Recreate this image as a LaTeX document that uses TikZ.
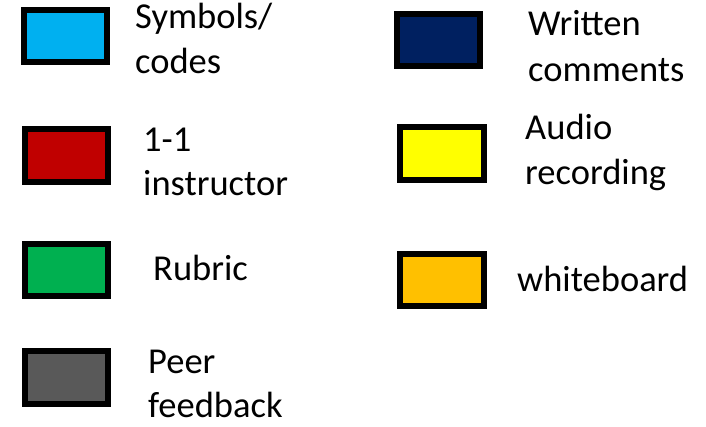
\documentclass[tikz,border=0pt]{standalone}
\usepackage{fontspec}
\setmainfont{Carlito}
\definecolor{cblue}{HTML}{00B0F0}
\definecolor{cred}{HTML}{C00000}
\definecolor{cgreen}{HTML}{00B050}
\definecolor{cgray}{HTML}{595959}
\definecolor{cnavy}{HTML}{002060}
\definecolor{cyellow}{HTML}{FFFF00}
\definecolor{corange}{HTML}{FFC000}
\begin{document}
\begin{tikzpicture}[x=1pt,y=-1pt,
  swatch/.style={draw=black,line width=6pt,minimum width=83.5pt,minimum height=52.5pt,inner sep=0pt,fill=#1},
  lbl/.style={anchor=base west,inner sep=0pt,font=\fontsize{36.5}{44}\selectfont,text=black}]
\useasboundingbox (0,0) rectangle (706,427);
\node[swatch=cblue]   (b1) at (65.5,36) {};
\node[swatch=cred]    (b2) at (66.5,155.5) {};
\node[swatch=cgreen]  (b3) at (66.5,270) {};
\node[swatch=cgray]   (b4) at (66.5,377.5) {};
\node[swatch=cnavy]   (b5) at (438.5,40) {};
\node[swatch=cyellow] (b6) at (442,153.5) {};
\node[swatch=corange] (b7) at (442,280) {};
\node[lbl] (t1a) at (135,29) {Symbols/};
\node[lbl] (t1b) at (135,74) {codes};
\node[lbl] (t2a) at (143,152) {1-1};
\node[lbl] (t2b) at (143,196) {instructor};
\node[lbl] (t3)  at (153,280) {Rubric};
\node[lbl] (t4a) at (148,373) {Peer};
\node[lbl] (t4b) at (148,417) {feedback};
\node[lbl] (t5a) at (528,36) {Written};
\node[lbl] (t5b) at (528,82) {comments};
\node[lbl] (t6a) at (525,140) {Audio};
\node[lbl] (t6b) at (525,185) {recording};
\node[lbl] (t7)  at (517,292) {whiteboard};
\end{tikzpicture}
\end{document}
